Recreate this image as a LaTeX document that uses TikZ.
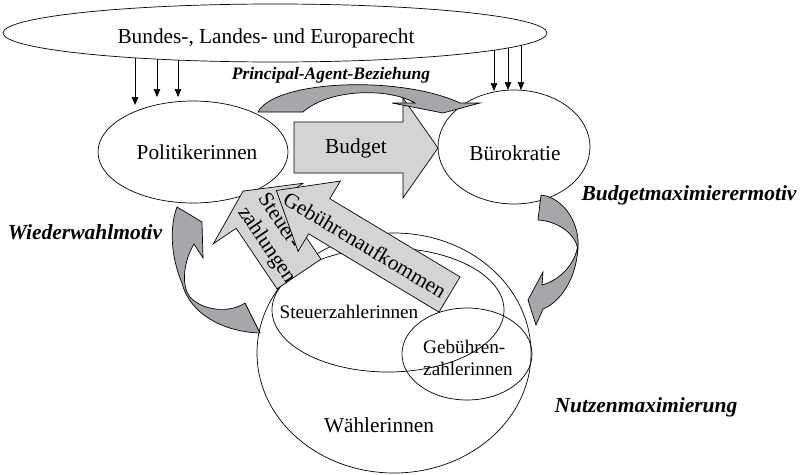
\documentclass[tikz,border=0pt]{standalone}
\usepackage{fontspec}
\setmainfont{Liberation Serif}
\usetikzlibrary{shapes.geometric,arrows.meta}
\definecolor{lightg}{RGB}{212,212,214}
\definecolor{darkg}{RGB}{166,166,171}
\begin{document}
\begin{tikzpicture}[x=1pt,y=-1pt,
  ell/.style={draw,ellipse,line width=0.7pt,inner sep=0pt},
  lbl/.style={font=\fontsize{21.3}{24}\selectfont,inner sep=0pt},
  sml/.style={font=\fontsize{19.2}{22}\selectfont,inner sep=0pt},
  motiv/.style={font=\fontsize{21.5}{24}\selectfont\bfseries\itshape,inner sep=0pt},
  blk/.style={draw,line width=0.7pt,fill=lightg,line join=miter},
  curv/.style={draw,line width=0.7pt,fill=darkg},
  tip/.style={-{Triangle[length=8pt,width=6.5pt]},line width=0.7pt}]
\useasboundingbox (0,0) rectangle (803,474);

% main ellipses
\node[ell,minimum width=544pt,minimum height=58pt] (law) at (275,33) {};
\node[lbl] (lawt) at (266,38) {Bundes-, Landes- und Europarecht};
\node[ell,minimum width=190pt,minimum height=102pt] (pol) at (193,152) {};
\node[lbl] (polt) at (197,152) {Politikerinnen};
\node[ell,minimum width=152pt,minimum height=114pt] (bur) at (514,147) {};
\node[lbl] (burt) at (515,153) {Bürokratie};

% Venn ellipses
\node[ell,minimum width=274pt,minimum height=240pt] (wae) at (394,353) {};
\node[ell,minimum width=232pt,minimum height=124pt] (stz) at (388,310) {};
\node[ell,minimum width=130pt,minimum height=92pt] (geb) at (467,354) {};
\node[lbl] (waet) at (379,425) {Wählerinnen};
\node[sml] (stzt) at (349,312) {Steuerzahlerinnen};
\node[sml,align=left] (gebt) at (468,358) {Gebühren-\\zahlerinnen};

% law arrows
\coordinate (l1s) at (135,58);  \coordinate (l1e) at (135,105);
\coordinate (l2s) at (157,59);  \coordinate (l2e) at (157,97);
\coordinate (l3s) at (178,60);  \coordinate (l3e) at (178,97);
\coordinate (r1s) at (494,50);  \coordinate (r1e) at (494,91);
\coordinate (r2s) at (508,48);  \coordinate (r2e) at (508,90);
\coordinate (r3s) at (521,45);  \coordinate (r3e) at (521,90);
\draw[tip] (l1s) -- (l1e);
\draw[tip] (l2s) -- (l2e);
\draw[tip] (l3s) -- (l3e);
\draw[tip] (r1s) -- (r1e);
\draw[tip] (r2s) -- (r2e);
\draw[tip] (r3s) -- (r3e);

% Budget arrow
\draw[blk] (294,122) -- (403,122) -- (403,98) -- (438,148) -- (403,198) -- (403,173) -- (294,173) -- cycle;
\node[lbl] (budt) at (356,148) {Budget};

% Steuerzahlungen arrow
\begin{scope}[shift={(299,274)},rotate=124]
\draw[blk] (0,-26.5) -- (73,-26.5) -- (73,-54) -- (100,0) -- (73,54) -- (73,26.5) -- (0,26.5) -- cycle;
\end{scope}
\node[lbl,rotate=-56,align=left] (stt) at (276,239) {Steuer-\\zahlungen};

% Gebuehrenaufkommen arrow
\begin{scope}[shift={(449.5,294.5)},rotate=149]
\draw[blk] (0,-20.5) -- (152,-20.5) -- (152,-41) -- (202,0) -- (152,41) -- (152,20.5) -- (0,20.5) -- cycle;
\end{scope}
\node[lbl,rotate=-31] (gat) at (365,245) {Gebührenaufkommen};

% curved arrows
\draw[curv] (258,112) .. controls (275,80) and (400,75) .. (460,103) -- (480,103) -- (443,113) -- (392,103) -- (415,103) .. controls (390,88) and (330,88) .. (303,112) -- cycle;
\draw[curv] (177,207) -- (202,222) -- (203,258) -- (194,244) .. controls (183,262) and (180,290) .. (193,300) .. controls (208,312) and (232,312) .. (245,303) -- (260,333) .. controls (225,332) and (190,315) .. (182,283) .. controls (170,255) and (170,225) .. (177,207) -- cycle;
\draw[curv] (541,195) .. controls (565,198) and (580,225) .. (578,248) .. controls (576,280) and (560,302) .. (543,309) -- (536,325) -- (528,300) -- (543,272) -- (542,285) .. controls (560,280) and (574,265) .. (577.5,247.5) .. controls (574,232) and (556,221) .. (538,220) -- cycle;

% motive labels
\node[motiv] (ww) at (85,232) {Wiederwahlmotiv};
\node[motiv] (bm) at (689,195) {Budgetmaximierermotiv};
\node[motiv] (nm) at (646,407) {Nutzenmaximierung};
\node[font=\fontsize{17.5}{20}\selectfont\bfseries\itshape,inner sep=0pt] (pa) at (331,75) {Principal-Agent-Beziehung};
\end{tikzpicture}
\end{document}
